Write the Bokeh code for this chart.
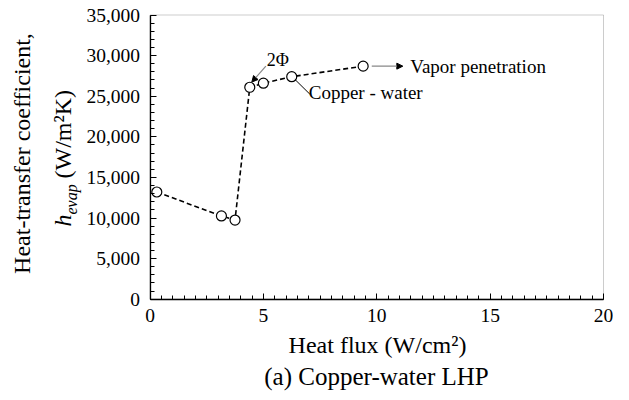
import math
from bokeh.plotting import figure
from bokeh.models import (Range1d, NumeralTickFormatter, SingleIntervalTicker,
                          Label, Arrow, NormalHead, BoxAnnotation)
from bokeh.embed import file_html
from bokeh.resources import INLINE

# ---- data ----
heat_flux = [0.3, 3.15, 3.75, 4.4, 5.0, 6.25, 9.4]          # W/cm2
htc = [13200, 10250, 9750, 26100, 26600, 27400, 28700]      # W/m2K
x_lim = (0, 20)
y_lim = (0, 35000)
x_tick_step = 5
y_tick_step = 5000

SERIF = "Liberation Serif"
LSERIF = "'Liberation Serif', 'Times New Roman', serif"

# ---- layout (pixels on the canvas) ----
W, H = 613, 396
AX_L, AX_R, AX_T, AX_B = 149.5, 603.0, 14.5, 298.7   # axes box edges
xu = (x_lim[1] - x_lim[0]) / (AX_R - AX_L)           # data units per px
yu = (y_lim[1] - y_lim[0]) / (AX_B - AX_T)


def dx(px):  # canvas px (from left) -> data x
    return x_lim[0] + (px - AX_L) * xu


def dy(py):  # canvas px (from top) -> data y
    return y_lim[0] + (AX_B - py) * yu


p = figure(width=W, height=H, output_backend="svg", toolbar_location=None,
           x_range=Range1d(dx(0), dx(W)), y_range=Range1d(dy(H), dy(0)),
           min_border=0)

p.xgrid.visible = False
p.ygrid.visible = False
p.outline_line_color = None
p.background_fill_color = "white"
p.border_fill_color = "white"

# box around the plotting area (top/right edges)
p.add_layout(BoxAnnotation(left=x_lim[0], right=x_lim[1], bottom=y_lim[0], top=y_lim[1],
                           fill_color=None, line_color="#555555", line_width=1,
                           level="underlay"))

p.xaxis.ticker = SingleIntervalTicker(interval=x_tick_step, num_minor_ticks=10)
p.yaxis.ticker = SingleIntervalTicker(interval=y_tick_step, num_minor_ticks=5)
p.yaxis.formatter = NumeralTickFormatter(format="0,0")
p.xaxis.fixed_location = y_lim[0]
p.yaxis.fixed_location = x_lim[0]
p.xaxis.bounds = x_lim
p.yaxis.bounds = y_lim

for ax in (p.xaxis[0], p.yaxis[0]):
    ax.axis_line_color = "black"
    ax.axis_line_width = 1.3
    ax.major_tick_line_color = "black"
    ax.minor_tick_line_color = "black"
    ax.major_tick_in = 6
    ax.major_tick_out = 0
    ax.minor_tick_in = 4
    ax.minor_tick_out = 0
    ax.major_label_text_font = SERIF
    ax.major_label_text_font_size = "19.5px"
    ax.major_label_text_color = "black"
    ax.major_label_standoff = 10

# series
p.line(heat_flux, htc, line_color="black", line_width=1.6, line_dash="5 3")
p.scatter(heat_flux, htc, marker="circle", size=10, fill_color="white",
          line_color="black", line_width=1.2)

# annotations
p.add_layout(Arrow(end=NormalHead(size=6, fill_color="black", line_color="black"),
                   line_color="#888888", line_width=1.2,
                   x_start=heat_flux[3] + 0.71, y_start=htc[3] + 2600,
                   x_end=heat_flux[3] + 0.09, y_end=htc[3] + 640))
p.add_layout(Label(x=heat_flux[3] + 0.75, y=htc[3] + 2100, text="2Φ",
                   text_font=LSERIF, text_font_size="18px", text_color="black"))

p.add_layout(Arrow(end=None, line_color="black", line_width=1,
                   x_start=heat_flux[5] + 0.14, y_start=htc[5] - 330,
                   x_end=heat_flux[5] + 0.8, y_end=htc[5] - 2150))
p.add_layout(Label(x=heat_flux[5] + 0.75, y=htc[5] - 3250, text="Copper - water",
                   text_font=LSERIF, text_font_size="19px", text_color="black"))

p.add_layout(Arrow(end=NormalHead(size=6, fill_color="black", line_color="black"),
                   line_color="#888888", line_width=1.2,
                   x_start=heat_flux[6] + 0.38, y_start=htc[6],
                   x_end=heat_flux[6] + 1.75, y_end=htc[6]))
p.add_layout(Label(x=heat_flux[6] + 2.08, y=htc[6], text="Vapor penetration",
                   text_font=LSERIF, text_font_size="19px", text_color="black",
                   text_baseline="middle"))


# axis titles and caption (positions given in canvas pixels)
def lab(px, py, **kw):
    d = dict(x=dx(px), y=dy(py), text_font=LSERIF, text_color="black")
    d.update(kw)
    p.add_layout(Label(**d))


lab(377, 357, text="Heat flux (W/cm²)", text_font_size="24px", text_align="center")
lab(376, 389, text="(a) Copper-water LHP", text_font_size="25px", text_align="center")

R = math.pi / 2
lab(34, 153, text="Heat-transfer coefficient,", text_font_size="24px",
    text_align="center", angle=R)
lab(75, 226, text="h", text_font_size="24px", text_font_style="italic", angle=R)
lab(79, 214, text="evap", text_font_size="16px", text_font_style="italic", angle=R)
lab(75, 178, text="(W/m²K)", text_font_size="24px", angle=R)

open("out.html", "w").write(file_html(p, INLINE))
